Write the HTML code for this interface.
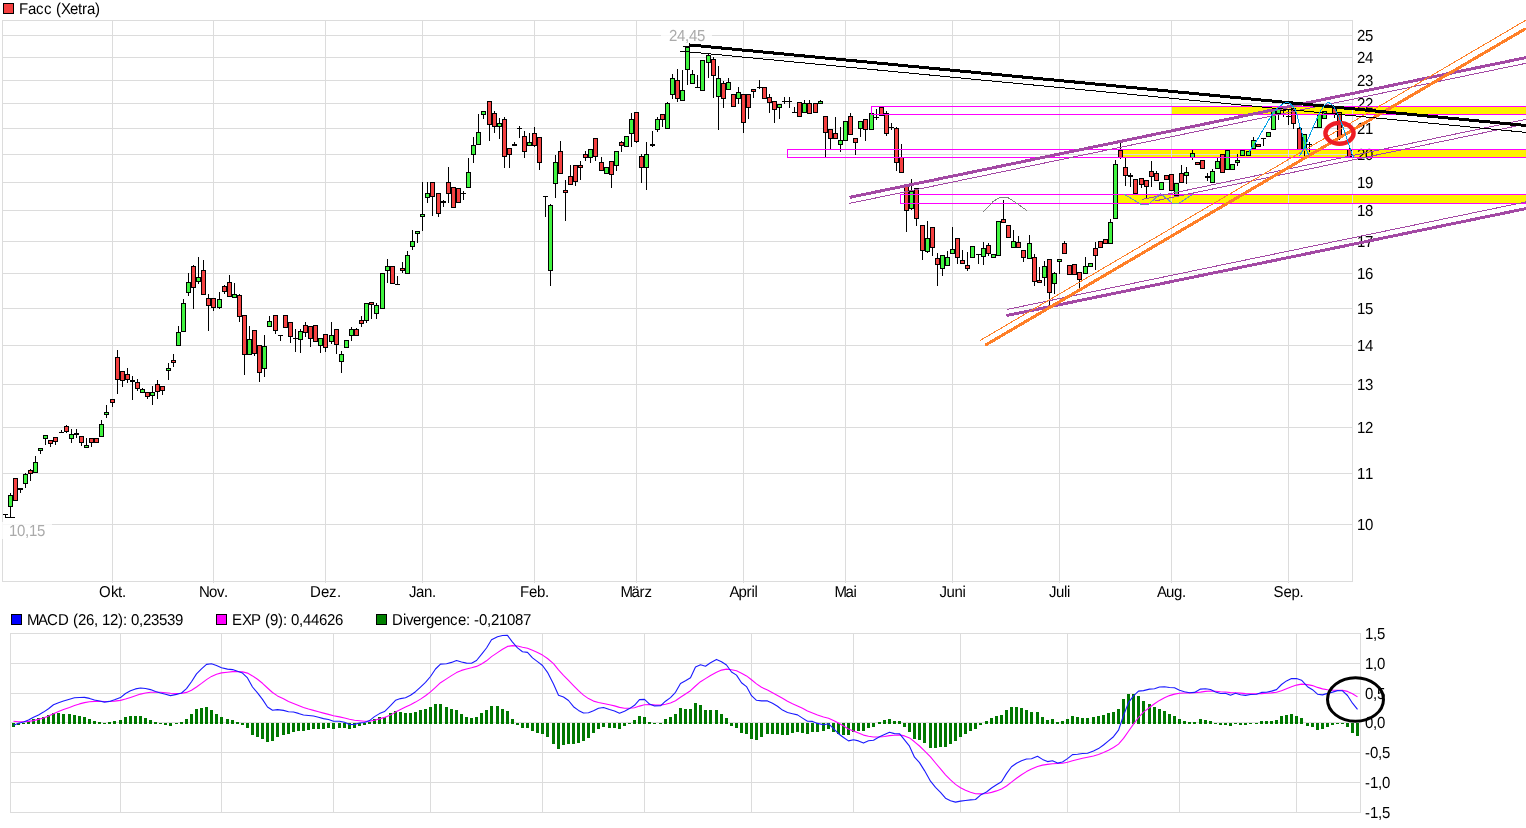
<!DOCTYPE html>
<html><head><meta charset="utf-8"><title>Facc (Xetra)</title>
<style>html,body{margin:0;padding:0;background:#fff}svg{display:block}</style></head>
<body>
<svg width="1526" height="828" viewBox="0 0 1526 828" font-family="'Liberation Sans', sans-serif" font-size="15px" text-rendering="geometricPrecision">
<rect x="0" y="0" width="1526" height="828" fill="#fff"/>
<g shape-rendering="crispEdges">
<rect x="1172" y="107" width="354" height="7" fill="#fff200"/>
<rect x="1123" y="150" width="403" height="7" fill="#fff200"/>
<rect x="1118" y="195" width="408" height="8" fill="#fff200"/>
</g>
<g shape-rendering="crispEdges" fill="#dcdcdc">
<rect x="2" y="524" width="1351" height="1"/>
<rect x="2" y="473" width="1351" height="1"/>
<rect x="2" y="427" width="1351" height="1"/>
<rect x="2" y="384" width="1351" height="1"/>
<rect x="2" y="345" width="1351" height="1"/>
<rect x="2" y="308" width="1351" height="1"/>
<rect x="2" y="273" width="1351" height="1"/>
<rect x="2" y="241" width="1351" height="1"/>
<rect x="2" y="210" width="1351" height="1"/>
<rect x="2" y="182" width="1351" height="1"/>
<rect x="2" y="154" width="1351" height="1"/>
<rect x="2" y="128" width="1351" height="1"/>
<rect x="2" y="103" width="1351" height="1"/>
<rect x="2" y="80" width="1351" height="1"/>
<rect x="2" y="57" width="1351" height="1"/>
<rect x="2" y="35" width="1351" height="1"/>
<rect x="112" y="20" width="1" height="563"/>
<rect x="213" y="20" width="1" height="563"/>
<rect x="325" y="20" width="1" height="563"/>
<rect x="422" y="20" width="1" height="563"/>
<rect x="534" y="20" width="1" height="563"/>
<rect x="636" y="20" width="1" height="563"/>
<rect x="743" y="20" width="1" height="563"/>
<rect x="845" y="20" width="1" height="563"/>
<rect x="952" y="20" width="1" height="563"/>
<rect x="1059" y="20" width="1" height="563"/>
<rect x="1171" y="20" width="1" height="563"/>
<rect x="1288" y="20" width="1" height="563"/>
<rect x="2" y="20" width="1351" height="1"/>
<rect x="2" y="581" width="1351" height="1"/>
<rect x="2" y="20" width="1" height="562"/>
<rect x="1352" y="20" width="1" height="562"/>
</g>
<rect x="3.5" y="3.5" width="10" height="10" fill="#f44040" stroke="#000" stroke-width="1" shape-rendering="crispEdges"/>
<text transform="matrix(1 0 0 1.05 0 14)" x="19 28 36 44 52 56 61 70 78 82 87 95" y="0" fill="#000">Facc (Xetra)</text>
<text transform="matrix(1 0 0 1.065 0 530)" x="1357 1365" y="0" fill="#000">10</text>
<text transform="matrix(1 0 0 1.065 0 479)" x="1357 1365" y="0" fill="#000">11</text>
<text transform="matrix(1 0 0 1.065 0 433)" x="1357 1365" y="0" fill="#000">12</text>
<text transform="matrix(1 0 0 1.065 0 390)" x="1357 1365" y="0" fill="#000">13</text>
<text transform="matrix(1 0 0 1.065 0 351)" x="1357 1365" y="0" fill="#000">14</text>
<text transform="matrix(1 0 0 1.065 0 314)" x="1357 1365" y="0" fill="#000">15</text>
<text transform="matrix(1 0 0 1.065 0 279)" x="1357 1365" y="0" fill="#000">16</text>
<text transform="matrix(1 0 0 1.065 0 247)" x="1357 1365" y="0" fill="#000">17</text>
<text transform="matrix(1 0 0 1.065 0 216)" x="1357 1365" y="0" fill="#000">18</text>
<text transform="matrix(1 0 0 1.065 0 188)" x="1357 1365" y="0" fill="#000">19</text>
<text transform="matrix(1 0 0 1.065 0 160)" x="1357 1365" y="0" fill="#000">20</text>
<text transform="matrix(1 0 0 1.065 0 134)" x="1357 1365" y="0" fill="#000">21</text>
<text transform="matrix(1 0 0 1.065 0 109)" x="1357 1365" y="0" fill="#000">22</text>
<text transform="matrix(1 0 0 1.065 0 86)" x="1357 1365" y="0" fill="#000">23</text>
<text transform="matrix(1 0 0 1.065 0 63)" x="1357 1365" y="0" fill="#000">24</text>
<text transform="matrix(1 0 0 1.065 0 41)" x="1357 1365" y="0" fill="#000">25</text>
<text transform="matrix(1 0 0 1.05 0 597)" x="99 111 118 122" y="0" fill="#000">Okt.</text>
<text transform="matrix(1 0 0 1.05 0 597)" x="199 209 217 224" y="0" fill="#000">Nov.</text>
<text transform="matrix(1 0 0 1.05 0 597)" x="310 321 329 337" y="0" fill="#000">Dez.</text>
<text transform="matrix(1 0 0 1.05 0 597)" x="409 416 424 432" y="0" fill="#000">Jan.</text>
<text transform="matrix(1 0 0 1.05 0 597)" x="520 529 537 545" y="0" fill="#000">Feb.</text>
<text transform="matrix(1 0 0 1.05 0 597)" x="620.5 631.5 639.5 644.5" y="0" fill="#000">März</text>
<text transform="matrix(1 0 0 1.05 0 597)" x="729.5 738.5 746.5 751.5 754.5" y="0" fill="#000">April</text>
<text transform="matrix(1 0 0 1.05 0 597)" x="834.5 845.5 853.5" y="0" fill="#000">Mai</text>
<text transform="matrix(1 0 0 1.05 0 597)" x="939.5 946.5 954.5 962.5" y="0" fill="#000">Juni</text>
<text transform="matrix(1 0 0 1.05 0 597)" x="1049 1056 1064 1067" y="0" fill="#000">Juli</text>
<text transform="matrix(1 0 0 1.05 0 597)" x="1157 1166 1174 1182" y="0" fill="#000">Aug.</text>
<text transform="matrix(1 0 0 1.05 0 597)" x="1273.5 1283.5 1291.5 1299.5" y="0" fill="#000">Sep.</text>
<rect x="2" y="522" width="50" height="17" fill="#fff" fill-opacity="0.8"/>
<text transform="matrix(1 0 0 1.065 0 536)" x="9 17 25 29 37" y="0" fill="#aaaaaa">10,15</text>
<rect x="661" y="27" width="51" height="17" fill="#fff" fill-opacity="0.8"/>
<text transform="matrix(1 0 0 1.065 0 41)" x="669 677 685 689 697" y="0" fill="#aaaaaa">24,45</text>
<g shape-rendering="crispEdges">
<rect x="5" y="514" width="1" height="4" fill="#000"/>
<rect x="3" y="514" width="5" height="1" fill="#000"/>
<rect x="10" y="493" width="1" height="25" fill="#000"/>
<rect x="8" y="495" width="5" height="12" fill="#000"/>
<rect x="9" y="496" width="3" height="10" fill="#40f440"/>
<rect x="15" y="478" width="1" height="23" fill="#000"/>
<rect x="13" y="478" width="5" height="23" fill="#000"/>
<rect x="14" y="479" width="3" height="21" fill="#f44040"/>
<rect x="20" y="488" width="1" height="5" fill="#000"/>
<rect x="18" y="488" width="5" height="2" fill="#000"/>
<rect x="25" y="473" width="1" height="15" fill="#000"/>
<rect x="23" y="474" width="5" height="10" fill="#000"/>
<rect x="24" y="475" width="3" height="8" fill="#40f440"/>
<rect x="30" y="469" width="1" height="12" fill="#000"/>
<rect x="28" y="470" width="5" height="4" fill="#000"/>
<rect x="29" y="471" width="3" height="2" fill="#f44040"/>
<rect x="35" y="456" width="1" height="17" fill="#000"/>
<rect x="33" y="462" width="5" height="11" fill="#000"/>
<rect x="34" y="463" width="3" height="9" fill="#40f440"/>
<rect x="40" y="448" width="1" height="6" fill="#000"/>
<rect x="38" y="448" width="5" height="3" fill="#000"/>
<rect x="39" y="449" width="3" height="1" fill="#40f440"/>
<rect x="45" y="435" width="1" height="10" fill="#000"/>
<rect x="43" y="435" width="5" height="4" fill="#000"/>
<rect x="44" y="436" width="3" height="2" fill="#40f440"/>
<rect x="50" y="440" width="1" height="7" fill="#000"/>
<rect x="48" y="440" width="5" height="4" fill="#000"/>
<rect x="49" y="441" width="3" height="2" fill="#f44040"/>
<rect x="55" y="437" width="1" height="8" fill="#000"/>
<rect x="53" y="437" width="5" height="5" fill="#000"/>
<rect x="54" y="438" width="3" height="3" fill="#f44040"/>
<rect x="61" y="430" width="1" height="3" fill="#000"/>
<rect x="59" y="432" width="5" height="1" fill="#000"/>
<rect x="66" y="425" width="1" height="8" fill="#000"/>
<rect x="64" y="426" width="5" height="6" fill="#000"/>
<rect x="65" y="427" width="3" height="4" fill="#f44040"/>
<rect x="71" y="429" width="1" height="14" fill="#000"/>
<rect x="69" y="434" width="5" height="5" fill="#000"/>
<rect x="70" y="435" width="3" height="3" fill="#40f440"/>
<rect x="76" y="429" width="1" height="9" fill="#000"/>
<rect x="74" y="433" width="5" height="2" fill="#000"/>
<rect x="81" y="436" width="1" height="10" fill="#000"/>
<rect x="79" y="436" width="5" height="7" fill="#000"/>
<rect x="80" y="437" width="3" height="5" fill="#f44040"/>
<rect x="86" y="438" width="1" height="10" fill="#000"/>
<rect x="84" y="445" width="5" height="3" fill="#000"/>
<rect x="85" y="446" width="3" height="1" fill="#40f440"/>
<rect x="91" y="438" width="1" height="9" fill="#000"/>
<rect x="89" y="438" width="5" height="5" fill="#000"/>
<rect x="90" y="439" width="3" height="3" fill="#f44040"/>
<rect x="96" y="438" width="1" height="5" fill="#000"/>
<rect x="94" y="438" width="5" height="5" fill="#000"/>
<rect x="95" y="439" width="3" height="3" fill="#f44040"/>
<rect x="101" y="420" width="1" height="17" fill="#000"/>
<rect x="99" y="424" width="5" height="13" fill="#000"/>
<rect x="100" y="425" width="3" height="11" fill="#40f440"/>
<rect x="106" y="405" width="1" height="13" fill="#000"/>
<rect x="104" y="412" width="5" height="3" fill="#000"/>
<rect x="105" y="413" width="3" height="1" fill="#40f440"/>
<rect x="112" y="399" width="1" height="8" fill="#000"/>
<rect x="110" y="399" width="5" height="4" fill="#000"/>
<rect x="111" y="400" width="3" height="2" fill="#f44040"/>
<rect x="117" y="350" width="1" height="44" fill="#000"/>
<rect x="115" y="357" width="5" height="23" fill="#000"/>
<rect x="116" y="358" width="3" height="21" fill="#f44040"/>
<rect x="122" y="371" width="1" height="16" fill="#000"/>
<rect x="120" y="371" width="5" height="10" fill="#000"/>
<rect x="121" y="372" width="3" height="8" fill="#f44040"/>
<rect x="127" y="368" width="1" height="15" fill="#000"/>
<rect x="125" y="374" width="5" height="6" fill="#000"/>
<rect x="126" y="375" width="3" height="4" fill="#f44040"/>
<rect x="132" y="376" width="1" height="24" fill="#000"/>
<rect x="130" y="380" width="5" height="2" fill="#000"/>
<rect x="137" y="379" width="1" height="12" fill="#000"/>
<rect x="135" y="382" width="5" height="7" fill="#000"/>
<rect x="136" y="383" width="3" height="5" fill="#f44040"/>
<rect x="142" y="388" width="1" height="5" fill="#000"/>
<rect x="140" y="389" width="5" height="4" fill="#000"/>
<rect x="141" y="390" width="3" height="2" fill="#40f440"/>
<rect x="147" y="392" width="1" height="7" fill="#000"/>
<rect x="145" y="392" width="5" height="5" fill="#000"/>
<rect x="146" y="393" width="3" height="3" fill="#f44040"/>
<rect x="152" y="386" width="1" height="19" fill="#000"/>
<rect x="150" y="392" width="5" height="4" fill="#000"/>
<rect x="151" y="393" width="3" height="2" fill="#40f440"/>
<rect x="157" y="380" width="1" height="19" fill="#000"/>
<rect x="155" y="384" width="5" height="8" fill="#000"/>
<rect x="156" y="385" width="3" height="6" fill="#f44040"/>
<rect x="162" y="386" width="1" height="9" fill="#000"/>
<rect x="160" y="386" width="5" height="5" fill="#000"/>
<rect x="161" y="387" width="3" height="3" fill="#f44040"/>
<rect x="168" y="363" width="1" height="17" fill="#000"/>
<rect x="166" y="368" width="5" height="3" fill="#000"/>
<rect x="167" y="369" width="3" height="1" fill="#40f440"/>
<rect x="173" y="354" width="1" height="13" fill="#000"/>
<rect x="171" y="360" width="5" height="3" fill="#000"/>
<rect x="172" y="361" width="3" height="1" fill="#f44040"/>
<rect x="178" y="326" width="1" height="20" fill="#000"/>
<rect x="176" y="332" width="5" height="14" fill="#000"/>
<rect x="177" y="333" width="3" height="12" fill="#40f440"/>
<rect x="183" y="299" width="1" height="33" fill="#000"/>
<rect x="181" y="303" width="5" height="29" fill="#000"/>
<rect x="182" y="304" width="3" height="27" fill="#40f440"/>
<rect x="188" y="273" width="1" height="23" fill="#000"/>
<rect x="186" y="282" width="5" height="11" fill="#000"/>
<rect x="187" y="283" width="3" height="9" fill="#40f440"/>
<rect x="193" y="265" width="1" height="44" fill="#000"/>
<rect x="191" y="266" width="5" height="22" fill="#000"/>
<rect x="192" y="267" width="3" height="20" fill="#f44040"/>
<rect x="198" y="257" width="1" height="27" fill="#000"/>
<rect x="196" y="277" width="5" height="5" fill="#000"/>
<rect x="197" y="278" width="3" height="3" fill="#40f440"/>
<rect x="203" y="260" width="1" height="35" fill="#000"/>
<rect x="201" y="270" width="5" height="25" fill="#000"/>
<rect x="202" y="271" width="3" height="23" fill="#f44040"/>
<rect x="208" y="294" width="1" height="37" fill="#000"/>
<rect x="206" y="298" width="5" height="8" fill="#000"/>
<rect x="207" y="299" width="3" height="6" fill="#f44040"/>
<rect x="213" y="298" width="1" height="13" fill="#000"/>
<rect x="211" y="298" width="5" height="10" fill="#000"/>
<rect x="212" y="299" width="3" height="8" fill="#f44040"/>
<rect x="219" y="292" width="1" height="17" fill="#000"/>
<rect x="217" y="299" width="5" height="9" fill="#000"/>
<rect x="218" y="300" width="3" height="7" fill="#40f440"/>
<rect x="224" y="285" width="1" height="9" fill="#000"/>
<rect x="222" y="286" width="5" height="6" fill="#000"/>
<rect x="223" y="287" width="3" height="4" fill="#f44040"/>
<rect x="229" y="275" width="1" height="22" fill="#000"/>
<rect x="227" y="282" width="5" height="15" fill="#000"/>
<rect x="228" y="283" width="3" height="13" fill="#f44040"/>
<rect x="234" y="283" width="1" height="15" fill="#000"/>
<rect x="232" y="294" width="5" height="4" fill="#000"/>
<rect x="233" y="295" width="3" height="2" fill="#40f440"/>
<rect x="239" y="294" width="1" height="28" fill="#000"/>
<rect x="237" y="295" width="5" height="22" fill="#000"/>
<rect x="238" y="296" width="3" height="20" fill="#f44040"/>
<rect x="244" y="315" width="1" height="60" fill="#000"/>
<rect x="242" y="315" width="5" height="40" fill="#000"/>
<rect x="243" y="316" width="3" height="38" fill="#f44040"/>
<rect x="249" y="326" width="1" height="29" fill="#000"/>
<rect x="247" y="339" width="5" height="16" fill="#000"/>
<rect x="248" y="340" width="3" height="14" fill="#40f440"/>
<rect x="254" y="330" width="1" height="26" fill="#000"/>
<rect x="252" y="330" width="5" height="24" fill="#000"/>
<rect x="253" y="331" width="3" height="22" fill="#f44040"/>
<rect x="259" y="345" width="1" height="37" fill="#000"/>
<rect x="257" y="345" width="5" height="28" fill="#000"/>
<rect x="258" y="346" width="3" height="26" fill="#f44040"/>
<rect x="264" y="335" width="1" height="42" fill="#000"/>
<rect x="262" y="346" width="5" height="23" fill="#000"/>
<rect x="263" y="347" width="3" height="21" fill="#40f440"/>
<rect x="269" y="316" width="1" height="11" fill="#000"/>
<rect x="267" y="321" width="5" height="6" fill="#000"/>
<rect x="268" y="322" width="3" height="4" fill="#40f440"/>
<rect x="275" y="315" width="1" height="19" fill="#000"/>
<rect x="273" y="315" width="5" height="16" fill="#000"/>
<rect x="274" y="316" width="3" height="14" fill="#f44040"/>
<rect x="280" y="335" width="1" height="6" fill="#000"/>
<rect x="278" y="335" width="5" height="1" fill="#000"/>
<rect x="285" y="315" width="1" height="13" fill="#000"/>
<rect x="283" y="315" width="5" height="13" fill="#000"/>
<rect x="284" y="316" width="3" height="11" fill="#f44040"/>
<rect x="290" y="322" width="1" height="21" fill="#000"/>
<rect x="288" y="322" width="5" height="15" fill="#000"/>
<rect x="289" y="323" width="3" height="13" fill="#f44040"/>
<rect x="295" y="329" width="1" height="23" fill="#000"/>
<rect x="293" y="338" width="5" height="1" fill="#000"/>
<rect x="300" y="329" width="1" height="24" fill="#000"/>
<rect x="298" y="331" width="5" height="9" fill="#000"/>
<rect x="299" y="332" width="3" height="7" fill="#40f440"/>
<rect x="305" y="322" width="1" height="15" fill="#000"/>
<rect x="303" y="325" width="5" height="8" fill="#000"/>
<rect x="304" y="326" width="3" height="6" fill="#f44040"/>
<rect x="310" y="326" width="1" height="21" fill="#000"/>
<rect x="308" y="326" width="5" height="13" fill="#000"/>
<rect x="309" y="327" width="3" height="11" fill="#f44040"/>
<rect x="315" y="325" width="1" height="17" fill="#000"/>
<rect x="313" y="325" width="5" height="17" fill="#000"/>
<rect x="314" y="326" width="3" height="15" fill="#f44040"/>
<rect x="320" y="338" width="1" height="15" fill="#000"/>
<rect x="318" y="338" width="5" height="8" fill="#000"/>
<rect x="319" y="339" width="3" height="6" fill="#40f440"/>
<rect x="325" y="334" width="1" height="18" fill="#000"/>
<rect x="323" y="334" width="5" height="14" fill="#000"/>
<rect x="324" y="335" width="3" height="12" fill="#f44040"/>
<rect x="331" y="322" width="1" height="22" fill="#000"/>
<rect x="329" y="335" width="5" height="7" fill="#000"/>
<rect x="330" y="336" width="3" height="5" fill="#40f440"/>
<rect x="336" y="329" width="1" height="25" fill="#000"/>
<rect x="334" y="329" width="5" height="16" fill="#000"/>
<rect x="335" y="330" width="3" height="14" fill="#f44040"/>
<rect x="341" y="351" width="1" height="22" fill="#000"/>
<rect x="339" y="354" width="5" height="8" fill="#000"/>
<rect x="340" y="355" width="3" height="6" fill="#40f440"/>
<rect x="346" y="340" width="1" height="8" fill="#000"/>
<rect x="344" y="340" width="5" height="8" fill="#000"/>
<rect x="345" y="341" width="3" height="6" fill="#40f440"/>
<rect x="351" y="327" width="1" height="14" fill="#000"/>
<rect x="349" y="329" width="5" height="7" fill="#000"/>
<rect x="350" y="330" width="3" height="5" fill="#40f440"/>
<rect x="356" y="328" width="1" height="8" fill="#000"/>
<rect x="354" y="329" width="5" height="7" fill="#000"/>
<rect x="355" y="330" width="3" height="5" fill="#f44040"/>
<rect x="361" y="316" width="1" height="11" fill="#000"/>
<rect x="359" y="320" width="5" height="4" fill="#000"/>
<rect x="360" y="321" width="3" height="2" fill="#f44040"/>
<rect x="366" y="303" width="1" height="20" fill="#000"/>
<rect x="364" y="303" width="5" height="18" fill="#000"/>
<rect x="365" y="304" width="3" height="16" fill="#40f440"/>
<rect x="371" y="302" width="1" height="17" fill="#000"/>
<rect x="369" y="302" width="5" height="3" fill="#000"/>
<rect x="370" y="303" width="3" height="1" fill="#f44040"/>
<rect x="376" y="303" width="1" height="16" fill="#000"/>
<rect x="374" y="305" width="5" height="9" fill="#000"/>
<rect x="375" y="306" width="3" height="7" fill="#40f440"/>
<rect x="382" y="273" width="1" height="36" fill="#000"/>
<rect x="380" y="273" width="5" height="36" fill="#000"/>
<rect x="381" y="274" width="3" height="34" fill="#40f440"/>
<rect x="387" y="259" width="1" height="24" fill="#000"/>
<rect x="385" y="266" width="5" height="5" fill="#000"/>
<rect x="386" y="267" width="3" height="3" fill="#40f440"/>
<rect x="392" y="266" width="1" height="18" fill="#000"/>
<rect x="390" y="266" width="5" height="18" fill="#000"/>
<rect x="391" y="267" width="3" height="16" fill="#f44040"/>
<rect x="397" y="276" width="1" height="9" fill="#000"/>
<rect x="395" y="284" width="5" height="1" fill="#000"/>
<rect x="402" y="262" width="1" height="11" fill="#000"/>
<rect x="400" y="268" width="5" height="3" fill="#000"/>
<rect x="401" y="269" width="3" height="1" fill="#f44040"/>
<rect x="407" y="251" width="1" height="23" fill="#000"/>
<rect x="405" y="255" width="5" height="19" fill="#000"/>
<rect x="406" y="256" width="3" height="17" fill="#40f440"/>
<rect x="412" y="230" width="1" height="20" fill="#000"/>
<rect x="410" y="241" width="5" height="6" fill="#000"/>
<rect x="411" y="242" width="3" height="4" fill="#40f440"/>
<rect x="417" y="231" width="1" height="12" fill="#000"/>
<rect x="415" y="231" width="5" height="3" fill="#000"/>
<rect x="416" y="232" width="3" height="1" fill="#40f440"/>
<rect x="422" y="182" width="1" height="49" fill="#000"/>
<rect x="420" y="214" width="5" height="3" fill="#000"/>
<rect x="421" y="215" width="3" height="1" fill="#40f440"/>
<rect x="427" y="182" width="1" height="21" fill="#000"/>
<rect x="425" y="193" width="5" height="5" fill="#000"/>
<rect x="426" y="194" width="3" height="3" fill="#40f440"/>
<rect x="432" y="182" width="1" height="34" fill="#000"/>
<rect x="430" y="182" width="5" height="15" fill="#000"/>
<rect x="431" y="183" width="3" height="13" fill="#f44040"/>
<rect x="438" y="193" width="1" height="24" fill="#000"/>
<rect x="436" y="193" width="5" height="21" fill="#000"/>
<rect x="437" y="194" width="3" height="19" fill="#f44040"/>
<rect x="443" y="200" width="1" height="7" fill="#000"/>
<rect x="441" y="201" width="5" height="2" fill="#000"/>
<rect x="448" y="167" width="1" height="36" fill="#000"/>
<rect x="446" y="182" width="5" height="12" fill="#000"/>
<rect x="447" y="183" width="3" height="10" fill="#f44040"/>
<rect x="453" y="187" width="1" height="21" fill="#000"/>
<rect x="451" y="187" width="5" height="21" fill="#000"/>
<rect x="452" y="188" width="3" height="19" fill="#f44040"/>
<rect x="458" y="188" width="1" height="15" fill="#000"/>
<rect x="456" y="188" width="5" height="15" fill="#000"/>
<rect x="457" y="189" width="3" height="13" fill="#f44040"/>
<rect x="463" y="191" width="1" height="9" fill="#000"/>
<rect x="461" y="193" width="5" height="1" fill="#000"/>
<rect x="468" y="158" width="1" height="30" fill="#000"/>
<rect x="466" y="172" width="5" height="16" fill="#000"/>
<rect x="467" y="173" width="3" height="14" fill="#40f440"/>
<rect x="473" y="137" width="1" height="26" fill="#000"/>
<rect x="471" y="145" width="5" height="10" fill="#000"/>
<rect x="472" y="146" width="3" height="8" fill="#40f440"/>
<rect x="478" y="114" width="1" height="31" fill="#000"/>
<rect x="476" y="132" width="5" height="13" fill="#000"/>
<rect x="477" y="133" width="3" height="11" fill="#40f440"/>
<rect x="483" y="111" width="1" height="8" fill="#000"/>
<rect x="481" y="111" width="5" height="4" fill="#000"/>
<rect x="482" y="112" width="3" height="2" fill="#40f440"/>
<rect x="489" y="101" width="1" height="40" fill="#000"/>
<rect x="487" y="101" width="5" height="24" fill="#000"/>
<rect x="488" y="102" width="3" height="22" fill="#f44040"/>
<rect x="494" y="111" width="1" height="22" fill="#000"/>
<rect x="492" y="113" width="5" height="14" fill="#000"/>
<rect x="493" y="114" width="3" height="12" fill="#f44040"/>
<rect x="499" y="118" width="1" height="21" fill="#000"/>
<rect x="497" y="123" width="5" height="4" fill="#000"/>
<rect x="498" y="124" width="3" height="2" fill="#40f440"/>
<rect x="504" y="117" width="1" height="51" fill="#000"/>
<rect x="502" y="119" width="5" height="38" fill="#000"/>
<rect x="503" y="120" width="3" height="36" fill="#f44040"/>
<rect x="509" y="148" width="1" height="20" fill="#000"/>
<rect x="507" y="148" width="5" height="7" fill="#000"/>
<rect x="508" y="149" width="3" height="5" fill="#f44040"/>
<rect x="514" y="142" width="1" height="4" fill="#000"/>
<rect x="512" y="144" width="5" height="2" fill="#000"/>
<rect x="519" y="126" width="1" height="12" fill="#000"/>
<rect x="517" y="128" width="5" height="1" fill="#000"/>
<rect x="524" y="131" width="1" height="27" fill="#000"/>
<rect x="522" y="136" width="5" height="16" fill="#000"/>
<rect x="523" y="137" width="3" height="14" fill="#f44040"/>
<rect x="529" y="133" width="1" height="13" fill="#000"/>
<rect x="527" y="142" width="5" height="4" fill="#000"/>
<rect x="528" y="143" width="3" height="2" fill="#40f440"/>
<rect x="534" y="127" width="1" height="20" fill="#000"/>
<rect x="532" y="133" width="5" height="13" fill="#000"/>
<rect x="533" y="134" width="3" height="11" fill="#f44040"/>
<rect x="539" y="137" width="1" height="33" fill="#000"/>
<rect x="537" y="137" width="5" height="26" fill="#000"/>
<rect x="538" y="138" width="3" height="24" fill="#f44040"/>
<rect x="545" y="196" width="1" height="21" fill="#000"/>
<rect x="543" y="196" width="5" height="1" fill="#000"/>
<rect x="550" y="204" width="1" height="82" fill="#000"/>
<rect x="548" y="205" width="5" height="66" fill="#000"/>
<rect x="549" y="206" width="3" height="64" fill="#40f440"/>
<rect x="555" y="155" width="1" height="43" fill="#000"/>
<rect x="553" y="162" width="5" height="22" fill="#000"/>
<rect x="554" y="163" width="3" height="20" fill="#40f440"/>
<rect x="560" y="141" width="1" height="33" fill="#000"/>
<rect x="558" y="151" width="5" height="23" fill="#000"/>
<rect x="559" y="152" width="3" height="21" fill="#f44040"/>
<rect x="565" y="180" width="1" height="41" fill="#000"/>
<rect x="563" y="190" width="5" height="3" fill="#000"/>
<rect x="564" y="191" width="3" height="1" fill="#f44040"/>
<rect x="570" y="165" width="1" height="20" fill="#000"/>
<rect x="568" y="176" width="5" height="9" fill="#000"/>
<rect x="569" y="177" width="3" height="7" fill="#f44040"/>
<rect x="575" y="165" width="1" height="21" fill="#000"/>
<rect x="573" y="165" width="5" height="17" fill="#000"/>
<rect x="574" y="166" width="3" height="15" fill="#f44040"/>
<rect x="580" y="161" width="1" height="19" fill="#000"/>
<rect x="578" y="165" width="5" height="3" fill="#000"/>
<rect x="579" y="166" width="3" height="1" fill="#f44040"/>
<rect x="585" y="151" width="1" height="10" fill="#000"/>
<rect x="583" y="154" width="5" height="4" fill="#000"/>
<rect x="584" y="155" width="3" height="2" fill="#f44040"/>
<rect x="590" y="149" width="1" height="14" fill="#000"/>
<rect x="588" y="149" width="5" height="9" fill="#000"/>
<rect x="589" y="150" width="3" height="7" fill="#40f440"/>
<rect x="595" y="138" width="1" height="23" fill="#000"/>
<rect x="593" y="138" width="5" height="19" fill="#000"/>
<rect x="594" y="139" width="3" height="17" fill="#f44040"/>
<rect x="601" y="157" width="1" height="14" fill="#000"/>
<rect x="599" y="162" width="5" height="9" fill="#000"/>
<rect x="600" y="163" width="3" height="7" fill="#f44040"/>
<rect x="606" y="167" width="1" height="7" fill="#000"/>
<rect x="604" y="167" width="5" height="7" fill="#000"/>
<rect x="605" y="168" width="3" height="5" fill="#40f440"/>
<rect x="611" y="161" width="1" height="27" fill="#000"/>
<rect x="609" y="161" width="5" height="14" fill="#000"/>
<rect x="610" y="162" width="3" height="12" fill="#f44040"/>
<rect x="616" y="151" width="1" height="20" fill="#000"/>
<rect x="614" y="151" width="5" height="15" fill="#000"/>
<rect x="615" y="152" width="3" height="13" fill="#40f440"/>
<rect x="621" y="141" width="1" height="11" fill="#000"/>
<rect x="619" y="142" width="5" height="4" fill="#000"/>
<rect x="620" y="143" width="3" height="2" fill="#f44040"/>
<rect x="626" y="136" width="1" height="11" fill="#000"/>
<rect x="624" y="136" width="5" height="11" fill="#000"/>
<rect x="625" y="137" width="3" height="9" fill="#40f440"/>
<rect x="631" y="113" width="1" height="34" fill="#000"/>
<rect x="629" y="119" width="5" height="15" fill="#000"/>
<rect x="630" y="120" width="3" height="13" fill="#40f440"/>
<rect x="636" y="112" width="1" height="31" fill="#000"/>
<rect x="634" y="112" width="5" height="30" fill="#000"/>
<rect x="635" y="113" width="3" height="28" fill="#f44040"/>
<rect x="641" y="154" width="1" height="29" fill="#000"/>
<rect x="639" y="156" width="5" height="12" fill="#000"/>
<rect x="640" y="157" width="3" height="10" fill="#f44040"/>
<rect x="646" y="142" width="1" height="48" fill="#000"/>
<rect x="644" y="154" width="5" height="14" fill="#000"/>
<rect x="645" y="155" width="3" height="12" fill="#40f440"/>
<rect x="652" y="131" width="1" height="16" fill="#000"/>
<rect x="650" y="144" width="5" height="2" fill="#000"/>
<rect x="657" y="117" width="1" height="15" fill="#000"/>
<rect x="655" y="119" width="5" height="11" fill="#000"/>
<rect x="656" y="120" width="3" height="9" fill="#40f440"/>
<rect x="662" y="114" width="1" height="13" fill="#000"/>
<rect x="660" y="114" width="5" height="6" fill="#000"/>
<rect x="661" y="115" width="3" height="4" fill="#f44040"/>
<rect x="667" y="102" width="1" height="27" fill="#000"/>
<rect x="665" y="103" width="5" height="26" fill="#000"/>
<rect x="666" y="104" width="3" height="24" fill="#40f440"/>
<rect x="672" y="74" width="1" height="25" fill="#000"/>
<rect x="670" y="78" width="5" height="17" fill="#000"/>
<rect x="671" y="79" width="3" height="15" fill="#40f440"/>
<rect x="677" y="69" width="1" height="33" fill="#000"/>
<rect x="675" y="80" width="5" height="19" fill="#000"/>
<rect x="676" y="81" width="3" height="17" fill="#f44040"/>
<rect x="682" y="70" width="1" height="31" fill="#000"/>
<rect x="680" y="90" width="5" height="11" fill="#000"/>
<rect x="681" y="91" width="3" height="9" fill="#40f440"/>
<rect x="687" y="46" width="1" height="39" fill="#000"/>
<rect x="685" y="47" width="5" height="23" fill="#000"/>
<rect x="686" y="48" width="3" height="21" fill="#40f440"/>
<rect x="692" y="70" width="1" height="14" fill="#000"/>
<rect x="690" y="74" width="5" height="10" fill="#000"/>
<rect x="691" y="75" width="3" height="8" fill="#40f440"/>
<rect x="697" y="75" width="1" height="13" fill="#000"/>
<rect x="695" y="87" width="5" height="1" fill="#000"/>
<rect x="702" y="60" width="1" height="31" fill="#000"/>
<rect x="700" y="60" width="5" height="31" fill="#000"/>
<rect x="701" y="61" width="3" height="29" fill="#40f440"/>
<rect x="708" y="54" width="1" height="24" fill="#000"/>
<rect x="706" y="55" width="5" height="8" fill="#000"/>
<rect x="707" y="56" width="3" height="6" fill="#40f440"/>
<rect x="713" y="57" width="1" height="41" fill="#000"/>
<rect x="711" y="59" width="5" height="17" fill="#000"/>
<rect x="712" y="60" width="3" height="15" fill="#f44040"/>
<rect x="718" y="66" width="1" height="64" fill="#000"/>
<rect x="716" y="78" width="5" height="19" fill="#000"/>
<rect x="717" y="79" width="3" height="17" fill="#40f440"/>
<rect x="723" y="81" width="1" height="27" fill="#000"/>
<rect x="721" y="83" width="5" height="16" fill="#000"/>
<rect x="722" y="84" width="3" height="14" fill="#f44040"/>
<rect x="728" y="78" width="1" height="12" fill="#000"/>
<rect x="726" y="82" width="5" height="8" fill="#000"/>
<rect x="727" y="83" width="3" height="6" fill="#40f440"/>
<rect x="733" y="94" width="1" height="13" fill="#000"/>
<rect x="731" y="94" width="5" height="13" fill="#000"/>
<rect x="732" y="95" width="3" height="11" fill="#f44040"/>
<rect x="738" y="87" width="1" height="17" fill="#000"/>
<rect x="736" y="92" width="5" height="7" fill="#000"/>
<rect x="737" y="93" width="3" height="5" fill="#40f440"/>
<rect x="743" y="94" width="1" height="39" fill="#000"/>
<rect x="741" y="94" width="5" height="29" fill="#000"/>
<rect x="742" y="95" width="3" height="27" fill="#f44040"/>
<rect x="748" y="94" width="1" height="25" fill="#000"/>
<rect x="746" y="94" width="5" height="14" fill="#000"/>
<rect x="747" y="95" width="3" height="12" fill="#f44040"/>
<rect x="753" y="89" width="1" height="9" fill="#000"/>
<rect x="751" y="89" width="5" height="3" fill="#000"/>
<rect x="752" y="90" width="3" height="1" fill="#f44040"/>
<rect x="759" y="80" width="1" height="9" fill="#000"/>
<rect x="757" y="87" width="5" height="1" fill="#000"/>
<rect x="764" y="87" width="1" height="12" fill="#000"/>
<rect x="762" y="87" width="5" height="12" fill="#000"/>
<rect x="763" y="88" width="3" height="10" fill="#f44040"/>
<rect x="769" y="94" width="1" height="19" fill="#000"/>
<rect x="767" y="97" width="5" height="6" fill="#000"/>
<rect x="768" y="98" width="3" height="4" fill="#f44040"/>
<rect x="774" y="101" width="1" height="22" fill="#000"/>
<rect x="772" y="101" width="5" height="9" fill="#000"/>
<rect x="773" y="102" width="3" height="7" fill="#f44040"/>
<rect x="779" y="104" width="1" height="15" fill="#000"/>
<rect x="777" y="104" width="5" height="4" fill="#000"/>
<rect x="778" y="105" width="3" height="2" fill="#40f440"/>
<rect x="784" y="97" width="1" height="7" fill="#000"/>
<rect x="782" y="101" width="5" height="1" fill="#000"/>
<rect x="789" y="97" width="1" height="11" fill="#000"/>
<rect x="787" y="101" width="5" height="1" fill="#000"/>
<rect x="794" y="107" width="1" height="6" fill="#000"/>
<rect x="792" y="112" width="5" height="1" fill="#000"/>
<rect x="799" y="102" width="1" height="15" fill="#000"/>
<rect x="797" y="102" width="5" height="15" fill="#000"/>
<rect x="798" y="103" width="3" height="13" fill="#f44040"/>
<rect x="804" y="100" width="1" height="13" fill="#000"/>
<rect x="802" y="103" width="5" height="10" fill="#000"/>
<rect x="803" y="104" width="3" height="8" fill="#40f440"/>
<rect x="809" y="100" width="1" height="14" fill="#000"/>
<rect x="807" y="103" width="5" height="11" fill="#000"/>
<rect x="808" y="104" width="3" height="9" fill="#f44040"/>
<rect x="815" y="103" width="1" height="10" fill="#000"/>
<rect x="813" y="103" width="5" height="10" fill="#000"/>
<rect x="814" y="104" width="3" height="8" fill="#f44040"/>
<rect x="820" y="100" width="1" height="4" fill="#000"/>
<rect x="818" y="101" width="5" height="3" fill="#000"/>
<rect x="819" y="102" width="3" height="1" fill="#40f440"/>
<rect x="825" y="116" width="1" height="41" fill="#000"/>
<rect x="823" y="116" width="5" height="17" fill="#000"/>
<rect x="824" y="117" width="3" height="15" fill="#f44040"/>
<rect x="830" y="129" width="1" height="20" fill="#000"/>
<rect x="828" y="129" width="5" height="10" fill="#000"/>
<rect x="829" y="130" width="3" height="8" fill="#f44040"/>
<rect x="835" y="117" width="1" height="22" fill="#000"/>
<rect x="833" y="133" width="5" height="6" fill="#000"/>
<rect x="834" y="134" width="3" height="4" fill="#f44040"/>
<rect x="840" y="127" width="1" height="25" fill="#000"/>
<rect x="838" y="140" width="5" height="5" fill="#000"/>
<rect x="839" y="141" width="3" height="3" fill="#40f440"/>
<rect x="845" y="121" width="1" height="20" fill="#000"/>
<rect x="843" y="121" width="5" height="20" fill="#000"/>
<rect x="844" y="122" width="3" height="18" fill="#40f440"/>
<rect x="850" y="113" width="1" height="22" fill="#000"/>
<rect x="848" y="116" width="5" height="19" fill="#000"/>
<rect x="849" y="117" width="3" height="17" fill="#f44040"/>
<rect x="855" y="138" width="1" height="17" fill="#000"/>
<rect x="853" y="138" width="5" height="5" fill="#000"/>
<rect x="854" y="139" width="3" height="3" fill="#f44040"/>
<rect x="860" y="121" width="1" height="16" fill="#000"/>
<rect x="858" y="121" width="5" height="8" fill="#000"/>
<rect x="859" y="122" width="3" height="6" fill="#40f440"/>
<rect x="865" y="119" width="1" height="22" fill="#000"/>
<rect x="863" y="119" width="5" height="11" fill="#000"/>
<rect x="864" y="120" width="3" height="9" fill="#f44040"/>
<rect x="871" y="113" width="1" height="17" fill="#000"/>
<rect x="869" y="113" width="5" height="17" fill="#000"/>
<rect x="870" y="114" width="3" height="15" fill="#40f440"/>
<rect x="876" y="109" width="1" height="11" fill="#000"/>
<rect x="874" y="117" width="5" height="1" fill="#000"/>
<rect x="881" y="107" width="1" height="9" fill="#000"/>
<rect x="879" y="107" width="5" height="9" fill="#000"/>
<rect x="880" y="108" width="3" height="7" fill="#f44040"/>
<rect x="886" y="111" width="1" height="25" fill="#000"/>
<rect x="884" y="113" width="5" height="21" fill="#000"/>
<rect x="885" y="114" width="3" height="19" fill="#f44040"/>
<rect x="891" y="123" width="1" height="7" fill="#000"/>
<rect x="889" y="127" width="5" height="1" fill="#000"/>
<rect x="896" y="127" width="1" height="44" fill="#000"/>
<rect x="894" y="128" width="5" height="35" fill="#000"/>
<rect x="895" y="129" width="3" height="33" fill="#f44040"/>
<rect x="901" y="144" width="1" height="29" fill="#000"/>
<rect x="899" y="157" width="5" height="16" fill="#000"/>
<rect x="900" y="158" width="3" height="14" fill="#f44040"/>
<rect x="906" y="184" width="1" height="48" fill="#000"/>
<rect x="904" y="184" width="5" height="27" fill="#000"/>
<rect x="905" y="185" width="3" height="25" fill="#f44040"/>
<rect x="911" y="179" width="1" height="31" fill="#000"/>
<rect x="909" y="191" width="5" height="18" fill="#000"/>
<rect x="910" y="192" width="3" height="16" fill="#40f440"/>
<rect x="916" y="188" width="1" height="38" fill="#000"/>
<rect x="914" y="188" width="5" height="31" fill="#000"/>
<rect x="915" y="189" width="3" height="29" fill="#f44040"/>
<rect x="922" y="225" width="1" height="35" fill="#000"/>
<rect x="920" y="225" width="5" height="26" fill="#000"/>
<rect x="921" y="226" width="3" height="24" fill="#f44040"/>
<rect x="927" y="221" width="1" height="32" fill="#000"/>
<rect x="925" y="238" width="5" height="14" fill="#000"/>
<rect x="926" y="239" width="3" height="12" fill="#40f440"/>
<rect x="932" y="227" width="1" height="29" fill="#000"/>
<rect x="930" y="227" width="5" height="21" fill="#000"/>
<rect x="931" y="228" width="3" height="19" fill="#f44040"/>
<rect x="937" y="253" width="1" height="33" fill="#000"/>
<rect x="935" y="258" width="5" height="7" fill="#000"/>
<rect x="936" y="259" width="3" height="5" fill="#f44040"/>
<rect x="942" y="255" width="1" height="21" fill="#000"/>
<rect x="940" y="255" width="5" height="14" fill="#000"/>
<rect x="941" y="256" width="3" height="12" fill="#40f440"/>
<rect x="947" y="251" width="1" height="15" fill="#000"/>
<rect x="945" y="257" width="5" height="9" fill="#000"/>
<rect x="946" y="258" width="3" height="7" fill="#40f440"/>
<rect x="952" y="227" width="1" height="27" fill="#000"/>
<rect x="950" y="249" width="5" height="5" fill="#000"/>
<rect x="951" y="250" width="3" height="3" fill="#40f440"/>
<rect x="957" y="238" width="1" height="26" fill="#000"/>
<rect x="955" y="238" width="5" height="20" fill="#000"/>
<rect x="956" y="239" width="3" height="18" fill="#f44040"/>
<rect x="962" y="250" width="1" height="14" fill="#000"/>
<rect x="960" y="260" width="5" height="4" fill="#000"/>
<rect x="961" y="261" width="3" height="2" fill="#f44040"/>
<rect x="967" y="252" width="1" height="19" fill="#000"/>
<rect x="965" y="265" width="5" height="4" fill="#000"/>
<rect x="966" y="266" width="3" height="2" fill="#f44040"/>
<rect x="972" y="246" width="1" height="12" fill="#000"/>
<rect x="970" y="246" width="5" height="12" fill="#000"/>
<rect x="971" y="247" width="3" height="10" fill="#40f440"/>
<rect x="978" y="254" width="1" height="10" fill="#000"/>
<rect x="976" y="254" width="5" height="1" fill="#000"/>
<rect x="983" y="242" width="1" height="23" fill="#000"/>
<rect x="981" y="248" width="5" height="9" fill="#000"/>
<rect x="982" y="249" width="3" height="7" fill="#40f440"/>
<rect x="988" y="243" width="1" height="13" fill="#000"/>
<rect x="986" y="245" width="5" height="9" fill="#000"/>
<rect x="987" y="246" width="3" height="7" fill="#f44040"/>
<rect x="993" y="254" width="1" height="4" fill="#000"/>
<rect x="991" y="254" width="5" height="4" fill="#000"/>
<rect x="992" y="255" width="3" height="2" fill="#40f440"/>
<rect x="998" y="221" width="1" height="35" fill="#000"/>
<rect x="996" y="221" width="5" height="35" fill="#000"/>
<rect x="997" y="222" width="3" height="33" fill="#40f440"/>
<rect x="1003" y="200" width="1" height="23" fill="#000"/>
<rect x="1001" y="219" width="5" height="4" fill="#000"/>
<rect x="1002" y="220" width="3" height="2" fill="#f44040"/>
<rect x="1008" y="225" width="1" height="13" fill="#000"/>
<rect x="1006" y="225" width="5" height="13" fill="#000"/>
<rect x="1007" y="226" width="3" height="11" fill="#f44040"/>
<rect x="1013" y="230" width="1" height="18" fill="#000"/>
<rect x="1011" y="241" width="5" height="7" fill="#000"/>
<rect x="1012" y="242" width="3" height="5" fill="#40f440"/>
<rect x="1018" y="236" width="1" height="12" fill="#000"/>
<rect x="1016" y="242" width="5" height="6" fill="#000"/>
<rect x="1017" y="243" width="3" height="4" fill="#f44040"/>
<rect x="1023" y="250" width="1" height="12" fill="#000"/>
<rect x="1021" y="250" width="5" height="8" fill="#000"/>
<rect x="1022" y="251" width="3" height="6" fill="#f44040"/>
<rect x="1029" y="235" width="1" height="24" fill="#000"/>
<rect x="1027" y="243" width="5" height="16" fill="#000"/>
<rect x="1028" y="244" width="3" height="14" fill="#40f440"/>
<rect x="1034" y="254" width="1" height="32" fill="#000"/>
<rect x="1032" y="257" width="5" height="25" fill="#000"/>
<rect x="1033" y="258" width="3" height="23" fill="#f44040"/>
<rect x="1039" y="267" width="1" height="16" fill="#000"/>
<rect x="1037" y="280" width="5" height="3" fill="#000"/>
<rect x="1038" y="281" width="3" height="1" fill="#f44040"/>
<rect x="1044" y="261" width="1" height="25" fill="#000"/>
<rect x="1042" y="266" width="5" height="12" fill="#000"/>
<rect x="1043" y="267" width="3" height="10" fill="#40f440"/>
<rect x="1049" y="259" width="1" height="47" fill="#000"/>
<rect x="1047" y="259" width="5" height="34" fill="#000"/>
<rect x="1048" y="260" width="3" height="32" fill="#f44040"/>
<rect x="1054" y="272" width="1" height="22" fill="#000"/>
<rect x="1052" y="273" width="5" height="11" fill="#000"/>
<rect x="1053" y="274" width="3" height="9" fill="#40f440"/>
<rect x="1059" y="259" width="1" height="15" fill="#000"/>
<rect x="1057" y="259" width="5" height="3" fill="#000"/>
<rect x="1058" y="260" width="3" height="1" fill="#40f440"/>
<rect x="1064" y="241" width="1" height="13" fill="#000"/>
<rect x="1062" y="243" width="5" height="11" fill="#000"/>
<rect x="1063" y="244" width="3" height="9" fill="#f44040"/>
<rect x="1069" y="265" width="1" height="10" fill="#000"/>
<rect x="1067" y="265" width="5" height="10" fill="#000"/>
<rect x="1068" y="266" width="3" height="8" fill="#f44040"/>
<rect x="1074" y="264" width="1" height="11" fill="#000"/>
<rect x="1072" y="264" width="5" height="11" fill="#000"/>
<rect x="1073" y="265" width="3" height="9" fill="#f44040"/>
<rect x="1079" y="272" width="1" height="16" fill="#000"/>
<rect x="1077" y="272" width="5" height="8" fill="#000"/>
<rect x="1078" y="273" width="3" height="6" fill="#f44040"/>
<rect x="1085" y="257" width="1" height="17" fill="#000"/>
<rect x="1083" y="266" width="5" height="8" fill="#000"/>
<rect x="1084" y="267" width="3" height="6" fill="#40f440"/>
<rect x="1090" y="263" width="1" height="4" fill="#000"/>
<rect x="1088" y="263" width="5" height="4" fill="#000"/>
<rect x="1089" y="264" width="3" height="2" fill="#40f440"/>
<rect x="1095" y="242" width="1" height="28" fill="#000"/>
<rect x="1093" y="248" width="5" height="8" fill="#000"/>
<rect x="1094" y="249" width="3" height="6" fill="#f44040"/>
<rect x="1100" y="241" width="1" height="7" fill="#000"/>
<rect x="1098" y="241" width="5" height="7" fill="#000"/>
<rect x="1099" y="242" width="3" height="5" fill="#f44040"/>
<rect x="1105" y="239" width="1" height="5" fill="#000"/>
<rect x="1103" y="239" width="5" height="5" fill="#000"/>
<rect x="1104" y="240" width="3" height="3" fill="#f44040"/>
<rect x="1110" y="219" width="1" height="25" fill="#000"/>
<rect x="1108" y="222" width="5" height="22" fill="#000"/>
<rect x="1109" y="223" width="3" height="20" fill="#40f440"/>
<rect x="1115" y="160" width="1" height="59" fill="#000"/>
<rect x="1113" y="164" width="5" height="55" fill="#000"/>
<rect x="1114" y="165" width="3" height="53" fill="#40f440"/>
<rect x="1120" y="143" width="1" height="16" fill="#000"/>
<rect x="1118" y="150" width="5" height="8" fill="#000"/>
<rect x="1119" y="151" width="3" height="6" fill="#f44040"/>
<rect x="1125" y="158" width="1" height="28" fill="#000"/>
<rect x="1123" y="167" width="5" height="9" fill="#000"/>
<rect x="1124" y="168" width="3" height="7" fill="#f44040"/>
<rect x="1130" y="173" width="1" height="14" fill="#000"/>
<rect x="1128" y="175" width="5" height="2" fill="#000"/>
<rect x="1135" y="179" width="1" height="15" fill="#000"/>
<rect x="1133" y="179" width="5" height="15" fill="#000"/>
<rect x="1134" y="180" width="3" height="13" fill="#f44040"/>
<rect x="1141" y="178" width="1" height="10" fill="#000"/>
<rect x="1139" y="178" width="5" height="7" fill="#000"/>
<rect x="1140" y="179" width="3" height="5" fill="#f44040"/>
<rect x="1146" y="180" width="1" height="19" fill="#000"/>
<rect x="1144" y="180" width="5" height="7" fill="#000"/>
<rect x="1145" y="181" width="3" height="5" fill="#f44040"/>
<rect x="1151" y="161" width="1" height="26" fill="#000"/>
<rect x="1149" y="171" width="5" height="6" fill="#000"/>
<rect x="1150" y="172" width="3" height="4" fill="#f44040"/>
<rect x="1156" y="171" width="1" height="10" fill="#000"/>
<rect x="1154" y="173" width="5" height="8" fill="#000"/>
<rect x="1155" y="174" width="3" height="6" fill="#f44040"/>
<rect x="1161" y="182" width="1" height="8" fill="#000"/>
<rect x="1159" y="182" width="5" height="8" fill="#000"/>
<rect x="1160" y="183" width="3" height="6" fill="#40f440"/>
<rect x="1166" y="175" width="1" height="5" fill="#000"/>
<rect x="1164" y="175" width="5" height="5" fill="#000"/>
<rect x="1165" y="176" width="3" height="3" fill="#f44040"/>
<rect x="1171" y="174" width="1" height="17" fill="#000"/>
<rect x="1169" y="174" width="5" height="17" fill="#000"/>
<rect x="1170" y="175" width="3" height="15" fill="#f44040"/>
<rect x="1176" y="183" width="1" height="14" fill="#000"/>
<rect x="1174" y="183" width="5" height="13" fill="#000"/>
<rect x="1175" y="184" width="3" height="11" fill="#40f440"/>
<rect x="1181" y="165" width="1" height="18" fill="#000"/>
<rect x="1179" y="173" width="5" height="10" fill="#000"/>
<rect x="1180" y="174" width="3" height="8" fill="#f44040"/>
<rect x="1186" y="167" width="1" height="17" fill="#000"/>
<rect x="1184" y="172" width="5" height="4" fill="#000"/>
<rect x="1185" y="173" width="3" height="2" fill="#40f440"/>
<rect x="1192" y="150" width="1" height="10" fill="#000"/>
<rect x="1190" y="153" width="5" height="5" fill="#000"/>
<rect x="1191" y="154" width="3" height="3" fill="#40f440"/>
<rect x="1197" y="162" width="1" height="3" fill="#000"/>
<rect x="1195" y="162" width="5" height="3" fill="#000"/>
<rect x="1196" y="163" width="3" height="1" fill="#f44040"/>
<rect x="1202" y="160" width="1" height="9" fill="#000"/>
<rect x="1200" y="160" width="5" height="9" fill="#000"/>
<rect x="1201" y="161" width="3" height="7" fill="#f44040"/>
<rect x="1207" y="173" width="1" height="8" fill="#000"/>
<rect x="1205" y="176" width="5" height="2" fill="#000"/>
<rect x="1212" y="169" width="1" height="14" fill="#000"/>
<rect x="1210" y="171" width="5" height="12" fill="#000"/>
<rect x="1211" y="172" width="3" height="10" fill="#40f440"/>
<rect x="1217" y="158" width="1" height="11" fill="#000"/>
<rect x="1215" y="161" width="5" height="8" fill="#000"/>
<rect x="1216" y="162" width="3" height="6" fill="#40f440"/>
<rect x="1222" y="154" width="1" height="19" fill="#000"/>
<rect x="1220" y="154" width="5" height="19" fill="#000"/>
<rect x="1221" y="155" width="3" height="17" fill="#f44040"/>
<rect x="1227" y="150" width="1" height="20" fill="#000"/>
<rect x="1225" y="150" width="5" height="20" fill="#000"/>
<rect x="1226" y="151" width="3" height="18" fill="#40f440"/>
<rect x="1232" y="164" width="1" height="6" fill="#000"/>
<rect x="1230" y="164" width="5" height="6" fill="#000"/>
<rect x="1231" y="165" width="3" height="4" fill="#40f440"/>
<rect x="1237" y="154" width="1" height="12" fill="#000"/>
<rect x="1235" y="160" width="5" height="3" fill="#000"/>
<rect x="1236" y="161" width="3" height="1" fill="#40f440"/>
<rect x="1242" y="150" width="1" height="6" fill="#000"/>
<rect x="1240" y="150" width="5" height="6" fill="#000"/>
<rect x="1241" y="151" width="3" height="4" fill="#40f440"/>
<rect x="1248" y="151" width="1" height="5" fill="#000"/>
<rect x="1246" y="151" width="5" height="5" fill="#000"/>
<rect x="1247" y="152" width="3" height="3" fill="#40f440"/>
<rect x="1253" y="137" width="1" height="12" fill="#000"/>
<rect x="1251" y="140" width="5" height="9" fill="#000"/>
<rect x="1252" y="141" width="3" height="7" fill="#40f440"/>
<rect x="1258" y="144" width="1" height="3" fill="#000"/>
<rect x="1256" y="144" width="5" height="3" fill="#000"/>
<rect x="1257" y="145" width="3" height="1" fill="#f44040"/>
<rect x="1263" y="138" width="1" height="8" fill="#000"/>
<rect x="1261" y="138" width="5" height="1" fill="#000"/>
<rect x="1268" y="132" width="1" height="5" fill="#000"/>
<rect x="1266" y="132" width="5" height="5" fill="#000"/>
<rect x="1267" y="133" width="3" height="3" fill="#40f440"/>
<rect x="1273" y="110" width="1" height="20" fill="#000"/>
<rect x="1271" y="110" width="5" height="20" fill="#000"/>
<rect x="1272" y="111" width="3" height="18" fill="#40f440"/>
<rect x="1278" y="109" width="1" height="11" fill="#000"/>
<rect x="1276" y="109" width="5" height="5" fill="#000"/>
<rect x="1277" y="110" width="3" height="3" fill="#40f440"/>
<rect x="1283" y="109" width="1" height="8" fill="#000"/>
<rect x="1281" y="110" width="5" height="1" fill="#000"/>
<rect x="1288" y="109" width="1" height="16" fill="#000"/>
<rect x="1286" y="116" width="5" height="1" fill="#000"/>
<rect x="1293" y="108" width="1" height="21" fill="#000"/>
<rect x="1291" y="108" width="5" height="16" fill="#000"/>
<rect x="1292" y="109" width="3" height="14" fill="#f44040"/>
<rect x="1299" y="125" width="1" height="25" fill="#000"/>
<rect x="1297" y="128" width="5" height="22" fill="#000"/>
<rect x="1298" y="129" width="3" height="20" fill="#f44040"/>
<rect x="1304" y="134" width="1" height="23" fill="#000"/>
<rect x="1302" y="134" width="5" height="16" fill="#000"/>
<rect x="1303" y="135" width="3" height="14" fill="#40f440"/>
<rect x="1309" y="142" width="1" height="10" fill="#000"/>
<rect x="1307" y="144" width="5" height="1" fill="#000"/>
<rect x="1312" y="127" width="5" height="1" fill="#000"/>
<rect x="1319" y="114" width="1" height="14" fill="#000"/>
<rect x="1317" y="114" width="5" height="14" fill="#000"/>
<rect x="1318" y="115" width="3" height="12" fill="#40f440"/>
<rect x="1324" y="111" width="1" height="8" fill="#000"/>
<rect x="1322" y="111" width="5" height="8" fill="#000"/>
<rect x="1323" y="112" width="3" height="6" fill="#40f440"/>
<rect x="1334" y="108" width="1" height="10" fill="#000"/>
<rect x="1332" y="108" width="5" height="6" fill="#000"/>
<rect x="1333" y="109" width="3" height="4" fill="#f44040"/>
<rect x="1339" y="112" width="1" height="28" fill="#000"/>
<rect x="1337" y="112" width="5" height="25" fill="#000"/>
<rect x="1338" y="113" width="3" height="23" fill="#f44040"/>
<rect x="1349" y="147" width="1" height="11" fill="#000"/>
<rect x="1347" y="149" width="5" height="8" fill="#000"/>
<rect x="1348" y="150" width="3" height="6" fill="#f44040"/>
<rect x="6" y="517" width="9" height="1" fill="#000"/>
<rect x="683" y="46" width="9" height="1" fill="#000"/>
</g>
<g shape-rendering="crispEdges" fill="none" stroke="#ff00ff" stroke-width="1">
<path d="M1526 106.5H871.5V114.5H1526"/>
<path d="M1526 149.5H787.5V157.5H1526"/>
<path d="M1526 194.5H900.5V203.5H1526"/>
</g>
<g shape-rendering="crispEdges" fill="none">
<line x1="849.5" y1="197.4" x2="1526" y2="57.6" stroke="#a349a4" stroke-width="3"/>
<line x1="849" y1="203.5" x2="1526" y2="63.3" stroke="#a349a4" stroke-width="1"/>
<line x1="1142" y1="199.5" x2="1526" y2="119.3" stroke="#a349a4" stroke-width="1"/>
<line x1="1155.2" y1="200.9" x2="1526" y2="124.0" stroke="#a349a4" stroke-width="1"/>
<line x1="1006.4" y1="315.6" x2="1526" y2="208.6" stroke="#a349a4" stroke-width="3"/>
<line x1="1007.1" y1="309.4" x2="1526" y2="201.9" stroke="#a349a4" stroke-width="1"/>
<line x1="985.3" y1="345.2" x2="1526" y2="28.4" stroke="#ff7f27" stroke-width="3"/>
<line x1="980.1" y1="340.5" x2="1526" y2="20.1" stroke="#ff7f27" stroke-width="1"/>
<line x1="689.3" y1="44.9" x2="1526" y2="125.5" stroke="#000" stroke-width="3"/>
<line x1="680" y1="51" x2="1526" y2="132.4" stroke="#000" stroke-width="1"/>
</g>
<path d="M983.3 211.6 L993.1 201.6 L998.2 198.4 L999.5 197.5 H1007.6 L1010.8 199.4 L1014.3 201.6 L1021 206.3 L1026.9 210.6" fill="none" stroke="#7f7f7f" stroke-width="1" shape-rendering="crispEdges"/>
<path d="M1124.5 194.4 L1140.5 204 H1149 L1160.4 193.5 L1172 203 H1179.3 L1194 193.5" fill="none" stroke="#7092be" stroke-width="1" shape-rendering="crispEdges"/>
<ellipse cx="1339.5" cy="133.3" rx="14.1" ry="10.4" fill="none" stroke="#ed1c24" stroke-width="4.4"/>
<path d="M1248.7 152.6 C1250.1 150.5 1254.3 144.4 1257.1 139.9 C1259.9 135.4 1262.9 130.0 1265.6 125.5 C1268.3 121.0 1270.8 116.0 1273.2 112.8 C1275.6 109.6 1277.8 107.8 1280 106.1 C1282.2 104.4 1284.5 102.4 1286.7 102.5 C1289.0 102.6 1291.8 104.9 1293.5 106.9 C1295.2 108.9 1295.9 111.5 1296.9 114.5 C1297.9 117.5 1298.4 121.4 1299.4 125 C1300.4 128.6 1301.8 132.5 1302.8 136 C1303.8 139.5 1304.5 142.8 1305.5 146 C1306.5 149.2 1308.0 153.5 1308.5 155" fill="none" stroke="#00a2e8" stroke-width="1" shape-rendering="crispEdges"/>
<path d="M1299.4 156 C1300.2 154.6 1302.8 150.9 1304.5 147.5 C1306.2 144.1 1307.7 139.8 1309.5 135.6 C1311.3 131.4 1313.6 126.2 1315.4 122.1 C1317.2 118.0 1319.0 113.9 1320.5 111.1 C1322.0 108.3 1323.4 106.6 1324.7 105.2 C1326.0 103.8 1327.1 102.3 1328.5 102.5 C1329.9 102.7 1331.9 104.5 1333.2 106.1 C1334.5 107.7 1335.5 109.8 1336.6 112 C1337.7 114.2 1338.9 116.9 1340 119.6 C1341.1 122.3 1342.2 124.9 1343.3 128 C1344.4 131.1 1345.6 134.8 1346.7 138.2 C1347.8 141.6 1349.0 145.1 1350.1 148.3 C1351.2 151.5 1352.9 156.1 1353.5 157.6" fill="none" stroke="#00a2e8" stroke-width="1" shape-rendering="crispEdges"/>
<g shape-rendering="crispEdges" fill="#dcdcdc">
<rect x="10" y="633" width="1351" height="1"/>
<rect x="10" y="663" width="1351" height="1"/>
<rect x="10" y="693" width="1351" height="1"/>
<rect x="10" y="722" width="1351" height="1"/>
<rect x="10" y="752" width="1351" height="1"/>
<rect x="10" y="782" width="1351" height="1"/>
<rect x="10" y="812" width="1351" height="1"/>
<rect x="120" y="633" width="1" height="180"/>
<rect x="221" y="633" width="1" height="180"/>
<rect x="333" y="633" width="1" height="180"/>
<rect x="430" y="633" width="1" height="180"/>
<rect x="542" y="633" width="1" height="180"/>
<rect x="644" y="633" width="1" height="180"/>
<rect x="751" y="633" width="1" height="180"/>
<rect x="853" y="633" width="1" height="180"/>
<rect x="960" y="633" width="1" height="180"/>
<rect x="1067" y="633" width="1" height="180"/>
<rect x="1179" y="633" width="1" height="180"/>
<rect x="1296" y="633" width="1" height="180"/>
<rect x="10" y="633" width="1" height="180"/>
<rect x="1360" y="633" width="1" height="180"/>
</g>
<g shape-rendering="crispEdges" fill="#007800">
<rect x="12" y="723" width="3" height="4"/>
<rect x="17" y="723" width="3" height="2"/>
<rect x="22" y="723" width="3" height="1"/>
<rect x="27" y="721" width="3" height="3"/>
<rect x="32" y="719" width="3" height="5"/>
<rect x="37" y="718" width="3" height="6"/>
<rect x="42" y="717" width="3" height="7"/>
<rect x="47" y="715" width="3" height="9"/>
<rect x="52" y="713" width="3" height="11"/>
<rect x="57" y="713" width="3" height="11"/>
<rect x="62" y="714" width="3" height="10"/>
<rect x="68" y="714" width="3" height="10"/>
<rect x="73" y="715" width="3" height="9"/>
<rect x="78" y="716" width="3" height="8"/>
<rect x="83" y="717" width="3" height="7"/>
<rect x="88" y="719" width="3" height="5"/>
<rect x="93" y="721" width="3" height="3"/>
<rect x="98" y="722" width="3" height="2"/>
<rect x="103" y="723" width="3" height="1"/>
<rect x="108" y="722" width="3" height="2"/>
<rect x="113" y="721" width="3" height="3"/>
<rect x="119" y="720" width="3" height="4"/>
<rect x="124" y="717" width="3" height="7"/>
<rect x="129" y="716" width="3" height="8"/>
<rect x="134" y="716" width="3" height="8"/>
<rect x="139" y="716" width="3" height="8"/>
<rect x="144" y="718" width="3" height="6"/>
<rect x="149" y="720" width="3" height="4"/>
<rect x="154" y="722" width="3" height="2"/>
<rect x="159" y="723" width="3" height="1"/>
<rect x="164" y="723" width="3" height="2"/>
<rect x="169" y="723" width="3" height="3"/>
<rect x="175" y="723" width="3" height="1"/>
<rect x="180" y="722" width="3" height="2"/>
<rect x="185" y="719" width="3" height="5"/>
<rect x="190" y="714" width="3" height="10"/>
<rect x="195" y="709" width="3" height="15"/>
<rect x="200" y="708" width="3" height="16"/>
<rect x="205" y="707" width="3" height="17"/>
<rect x="210" y="710" width="3" height="14"/>
<rect x="215" y="714" width="3" height="10"/>
<rect x="220" y="717" width="3" height="7"/>
<rect x="226" y="719" width="3" height="5"/>
<rect x="231" y="720" width="3" height="4"/>
<rect x="236" y="722" width="3" height="2"/>
<rect x="241" y="723" width="3" height="2"/>
<rect x="246" y="723" width="3" height="5"/>
<rect x="251" y="723" width="3" height="12"/>
<rect x="256" y="723" width="3" height="14"/>
<rect x="261" y="723" width="3" height="16"/>
<rect x="266" y="723" width="3" height="19"/>
<rect x="271" y="723" width="3" height="18"/>
<rect x="276" y="723" width="3" height="14"/>
<rect x="282" y="723" width="3" height="12"/>
<rect x="287" y="723" width="3" height="11"/>
<rect x="292" y="723" width="3" height="9"/>
<rect x="297" y="723" width="3" height="8"/>
<rect x="302" y="723" width="3" height="8"/>
<rect x="307" y="723" width="3" height="7"/>
<rect x="312" y="723" width="3" height="6"/>
<rect x="317" y="723" width="3" height="6"/>
<rect x="322" y="723" width="3" height="6"/>
<rect x="327" y="723" width="3" height="5"/>
<rect x="332" y="723" width="3" height="6"/>
<rect x="338" y="723" width="3" height="5"/>
<rect x="343" y="723" width="3" height="5"/>
<rect x="348" y="723" width="3" height="6"/>
<rect x="353" y="723" width="3" height="5"/>
<rect x="358" y="723" width="3" height="3"/>
<rect x="363" y="723" width="3" height="2"/>
<rect x="368" y="722" width="3" height="2"/>
<rect x="373" y="719" width="3" height="5"/>
<rect x="378" y="717" width="3" height="7"/>
<rect x="383" y="717" width="3" height="7"/>
<rect x="389" y="713" width="3" height="11"/>
<rect x="394" y="711" width="3" height="13"/>
<rect x="399" y="712" width="3" height="12"/>
<rect x="404" y="713" width="3" height="11"/>
<rect x="409" y="713" width="3" height="11"/>
<rect x="414" y="712" width="3" height="12"/>
<rect x="419" y="710" width="3" height="14"/>
<rect x="424" y="709" width="3" height="15"/>
<rect x="429" y="707" width="3" height="17"/>
<rect x="434" y="704" width="3" height="20"/>
<rect x="439" y="704" width="3" height="20"/>
<rect x="445" y="707" width="3" height="17"/>
<rect x="450" y="709" width="3" height="15"/>
<rect x="455" y="710" width="3" height="14"/>
<rect x="460" y="714" width="3" height="10"/>
<rect x="465" y="717" width="3" height="7"/>
<rect x="470" y="718" width="3" height="6"/>
<rect x="475" y="717" width="3" height="7"/>
<rect x="480" y="713" width="3" height="11"/>
<rect x="485" y="710" width="3" height="14"/>
<rect x="490" y="706" width="3" height="18"/>
<rect x="496" y="706" width="3" height="18"/>
<rect x="501" y="709" width="3" height="15"/>
<rect x="506" y="711" width="3" height="13"/>
<rect x="511" y="719" width="3" height="5"/>
<rect x="516" y="723" width="3" height="2"/>
<rect x="521" y="723" width="3" height="5"/>
<rect x="526" y="723" width="3" height="5"/>
<rect x="531" y="723" width="3" height="8"/>
<rect x="536" y="723" width="3" height="10"/>
<rect x="541" y="723" width="3" height="11"/>
<rect x="546" y="723" width="3" height="14"/>
<rect x="552" y="723" width="3" height="21"/>
<rect x="557" y="723" width="3" height="26"/>
<rect x="562" y="723" width="3" height="22"/>
<rect x="567" y="723" width="3" height="21"/>
<rect x="572" y="723" width="3" height="21"/>
<rect x="577" y="723" width="3" height="20"/>
<rect x="582" y="723" width="3" height="18"/>
<rect x="587" y="723" width="3" height="15"/>
<rect x="592" y="723" width="3" height="10"/>
<rect x="597" y="723" width="3" height="6"/>
<rect x="602" y="723" width="3" height="4"/>
<rect x="608" y="723" width="3" height="5"/>
<rect x="613" y="723" width="3" height="5"/>
<rect x="618" y="723" width="3" height="6"/>
<rect x="623" y="723" width="3" height="3"/>
<rect x="628" y="723" width="3" height="1"/>
<rect x="633" y="720" width="3" height="4"/>
<rect x="638" y="716" width="3" height="8"/>
<rect x="643" y="717" width="3" height="7"/>
<rect x="648" y="722" width="3" height="2"/>
<rect x="653" y="723" width="3" height="1"/>
<rect x="659" y="723" width="3" height="1"/>
<rect x="664" y="719" width="3" height="5"/>
<rect x="669" y="717" width="3" height="7"/>
<rect x="674" y="714" width="3" height="10"/>
<rect x="679" y="708" width="3" height="16"/>
<rect x="684" y="709" width="3" height="15"/>
<rect x="689" y="709" width="3" height="15"/>
<rect x="694" y="703" width="3" height="21"/>
<rect x="699" y="705" width="3" height="19"/>
<rect x="704" y="710" width="3" height="14"/>
<rect x="709" y="710" width="3" height="14"/>
<rect x="715" y="710" width="3" height="14"/>
<rect x="720" y="714" width="3" height="10"/>
<rect x="725" y="718" width="3" height="6"/>
<rect x="730" y="723" width="3" height="3"/>
<rect x="735" y="723" width="3" height="5"/>
<rect x="740" y="723" width="3" height="10"/>
<rect x="745" y="723" width="3" height="11"/>
<rect x="750" y="723" width="3" height="16"/>
<rect x="755" y="723" width="3" height="17"/>
<rect x="760" y="723" width="3" height="14"/>
<rect x="766" y="723" width="3" height="11"/>
<rect x="771" y="723" width="3" height="11"/>
<rect x="776" y="723" width="3" height="11"/>
<rect x="781" y="723" width="3" height="12"/>
<rect x="786" y="723" width="3" height="12"/>
<rect x="791" y="723" width="3" height="10"/>
<rect x="796" y="723" width="3" height="9"/>
<rect x="801" y="723" width="3" height="10"/>
<rect x="806" y="723" width="3" height="11"/>
<rect x="811" y="723" width="3" height="9"/>
<rect x="816" y="723" width="3" height="9"/>
<rect x="822" y="723" width="3" height="8"/>
<rect x="827" y="723" width="3" height="6"/>
<rect x="832" y="723" width="3" height="9"/>
<rect x="837" y="723" width="3" height="11"/>
<rect x="842" y="723" width="3" height="12"/>
<rect x="847" y="723" width="3" height="12"/>
<rect x="852" y="723" width="3" height="9"/>
<rect x="857" y="723" width="3" height="8"/>
<rect x="862" y="723" width="3" height="8"/>
<rect x="867" y="723" width="3" height="5"/>
<rect x="872" y="723" width="3" height="4"/>
<rect x="878" y="722" width="3" height="2"/>
<rect x="883" y="720" width="3" height="4"/>
<rect x="888" y="719" width="3" height="5"/>
<rect x="893" y="721" width="3" height="3"/>
<rect x="898" y="721" width="3" height="3"/>
<rect x="903" y="723" width="3" height="4"/>
<rect x="908" y="723" width="3" height="9"/>
<rect x="913" y="723" width="3" height="16"/>
<rect x="918" y="723" width="3" height="17"/>
<rect x="923" y="723" width="3" height="20"/>
<rect x="929" y="723" width="3" height="25"/>
<rect x="934" y="723" width="3" height="25"/>
<rect x="939" y="723" width="3" height="24"/>
<rect x="944" y="723" width="3" height="24"/>
<rect x="949" y="723" width="3" height="21"/>
<rect x="954" y="723" width="3" height="18"/>
<rect x="959" y="723" width="3" height="14"/>
<rect x="964" y="723" width="3" height="11"/>
<rect x="969" y="723" width="3" height="8"/>
<rect x="974" y="723" width="3" height="6"/>
<rect x="979" y="723" width="3" height="2"/>
<rect x="985" y="721" width="3" height="3"/>
<rect x="990" y="718" width="3" height="6"/>
<rect x="995" y="716" width="3" height="8"/>
<rect x="1000" y="715" width="3" height="9"/>
<rect x="1005" y="710" width="3" height="14"/>
<rect x="1010" y="707" width="3" height="17"/>
<rect x="1015" y="707" width="3" height="17"/>
<rect x="1020" y="708" width="3" height="16"/>
<rect x="1025" y="710" width="3" height="14"/>
<rect x="1030" y="712" width="3" height="12"/>
<rect x="1036" y="712" width="3" height="12"/>
<rect x="1041" y="717" width="3" height="7"/>
<rect x="1046" y="720" width="3" height="4"/>
<rect x="1051" y="719" width="3" height="5"/>
<rect x="1056" y="722" width="3" height="2"/>
<rect x="1061" y="721" width="3" height="3"/>
<rect x="1066" y="719" width="3" height="5"/>
<rect x="1071" y="716" width="3" height="8"/>
<rect x="1076" y="717" width="3" height="7"/>
<rect x="1081" y="718" width="3" height="6"/>
<rect x="1086" y="718" width="3" height="6"/>
<rect x="1092" y="717" width="3" height="7"/>
<rect x="1097" y="716" width="3" height="8"/>
<rect x="1102" y="715" width="3" height="9"/>
<rect x="1107" y="713" width="3" height="11"/>
<rect x="1112" y="712" width="3" height="12"/>
<rect x="1117" y="709" width="3" height="15"/>
<rect x="1122" y="699" width="3" height="25"/>
<rect x="1127" y="694" width="3" height="30"/>
<rect x="1132" y="694" width="3" height="30"/>
<rect x="1137" y="696" width="3" height="28"/>
<rect x="1142" y="701" width="3" height="23"/>
<rect x="1148" y="704" width="3" height="20"/>
<rect x="1153" y="707" width="3" height="17"/>
<rect x="1158" y="709" width="3" height="15"/>
<rect x="1163" y="711" width="3" height="13"/>
<rect x="1168" y="714" width="3" height="10"/>
<rect x="1173" y="716" width="3" height="8"/>
<rect x="1178" y="719" width="3" height="5"/>
<rect x="1183" y="721" width="3" height="3"/>
<rect x="1188" y="722" width="3" height="2"/>
<rect x="1193" y="722" width="3" height="2"/>
<rect x="1199" y="719" width="3" height="5"/>
<rect x="1204" y="720" width="3" height="4"/>
<rect x="1209" y="721" width="3" height="3"/>
<rect x="1214" y="723" width="3" height="1"/>
<rect x="1219" y="723" width="3" height="2"/>
<rect x="1224" y="723" width="3" height="2"/>
<rect x="1229" y="723" width="3" height="3"/>
<rect x="1234" y="723" width="3" height="1"/>
<rect x="1239" y="723" width="3" height="2"/>
<rect x="1244" y="723" width="3" height="2"/>
<rect x="1249" y="723" width="3" height="1"/>
<rect x="1255" y="723" width="3" height="1"/>
<rect x="1260" y="721" width="3" height="3"/>
<rect x="1265" y="721" width="3" height="3"/>
<rect x="1270" y="721" width="3" height="3"/>
<rect x="1275" y="720" width="3" height="4"/>
<rect x="1280" y="716" width="3" height="8"/>
<rect x="1285" y="715" width="3" height="9"/>
<rect x="1290" y="714" width="3" height="10"/>
<rect x="1295" y="716" width="3" height="8"/>
<rect x="1300" y="718" width="3" height="6"/>
<rect x="1306" y="723" width="3" height="3"/>
<rect x="1311" y="723" width="3" height="4"/>
<rect x="1316" y="723" width="3" height="7"/>
<rect x="1321" y="723" width="3" height="6"/>
<rect x="1326" y="723" width="3" height="4"/>
<rect x="1331" y="723" width="3" height="2"/>
<rect x="1336" y="723" width="3" height="1"/>
<rect x="1341" y="723" width="3" height="1"/>
<rect x="1346" y="723" width="3" height="4"/>
<rect x="1351" y="723" width="3" height="10"/>
<rect x="1356" y="723" width="3" height="13"/>
</g>
<polyline points="13.5,721.3 18.5,721.7 23.5,721.8 28.5,721.4 33.5,720.6 38.5,719.4 43.5,718.0 48.5,716.1 53.5,713.8 58.5,711.6 63.5,709.5 69.5,707.4 74.5,705.5 79.5,703.9 84.5,702.6 89.5,701.8 94.5,701.4 99.5,701.3 104.5,701.5 109.5,701.5 114.5,701.1 120.5,700.4 125.5,699.0 130.5,697.4 135.5,695.7 140.5,694.1 145.5,693.0 150.5,692.3 155.5,692.2 160.5,692.3 165.5,692.7 170.5,693.3 176.5,693.5 181.5,693.4 186.5,692.4 191.5,690.3 196.5,687.0 201.5,683.4 206.5,679.6 211.5,676.4 216.5,674.2 221.5,672.9 227.5,672.2 232.5,671.6 237.5,671.6 242.5,671.9 247.5,673.1 252.5,675.9 257.5,679.3 262.5,683.3 267.5,688.0 272.5,692.5 277.5,695.9 283.5,698.8 288.5,701.4 293.5,703.5 298.5,705.5 303.5,707.4 308.5,709.0 313.5,710.4 318.5,711.8 323.5,713.1 328.5,714.4 333.5,715.8 339.5,716.9 344.5,718.0 349.5,719.3 354.5,720.3 359.5,720.8 364.5,721.2 369.5,721.1 374.5,720.2 379.5,718.9 384.5,717.4 390.5,715.1 395.5,712.1 400.5,709.4 405.5,707.1 410.5,704.7 415.5,702.1 420.5,699.1 425.5,695.7 430.5,691.9 435.5,687.3 440.5,682.7 446.5,678.9 451.5,675.6 456.5,672.6 461.5,670.4 466.5,669.0 471.5,667.8 476.5,666.4 481.5,664.0 486.5,660.8 491.5,656.6 497.5,652.6 502.5,649.2 507.5,646.4 512.5,645.6 517.5,646.0 522.5,647.2 527.5,648.2 532.5,650.2 537.5,652.4 542.5,655.1 547.5,658.5 553.5,663.6 558.5,669.9 563.5,675.3 568.5,680.4 573.5,685.6 578.5,690.6 583.5,695.1 588.5,698.6 593.5,701.1 598.5,702.5 603.5,703.5 609.5,704.7 614.5,705.9 619.5,707.4 624.5,708.2 629.5,708.3 634.5,707.7 639.5,706.1 644.5,704.7 649.5,704.6 654.5,704.9 660.5,705.1 665.5,704.3 670.5,703.0 675.5,700.8 680.5,697.3 685.5,694.0 690.5,690.7 695.5,686.0 700.5,681.7 705.5,678.6 710.5,675.5 716.5,672.3 721.5,670.1 726.5,669.1 731.5,669.7 736.5,670.8 741.5,673.2 746.5,675.9 751.5,679.8 756.5,683.9 761.5,687.3 767.5,690.0 772.5,692.7 777.5,695.4 782.5,698.3 787.5,701.2 792.5,703.7 797.5,705.9 802.5,708.3 807.5,710.9 812.5,713.0 817.5,715.1 823.5,717.0 828.5,718.3 833.5,720.4 838.5,723.1 843.5,726.0 848.5,728.9 853.5,731.1 858.5,733.1 863.5,735.1 868.5,736.2 873.5,737.0 879.5,737.0 884.5,736.5 889.5,735.6 894.5,735.2 899.5,734.9 904.5,735.9 909.5,737.9 914.5,741.8 919.5,746.0 924.5,750.9 930.5,756.9 935.5,763.0 940.5,768.9 945.5,774.8 950.5,779.9 955.5,784.4 960.5,787.7 965.5,790.3 970.5,792.2 975.5,793.7 980.5,793.9 986.5,793.5 991.5,792.4 996.5,790.9 1001.5,789.0 1006.5,786.0 1011.5,782.1 1016.5,778.3 1021.5,774.8 1026.5,771.6 1031.5,769.1 1037.5,766.5 1042.5,765.1 1047.5,764.4 1052.5,763.7 1057.5,763.5 1062.5,763.2 1067.5,762.3 1072.5,760.8 1077.5,759.5 1082.5,758.3 1087.5,757.3 1093.5,756.0 1098.5,754.5 1103.5,752.6 1108.5,750.3 1113.5,747.5 1118.5,744.1 1123.5,738.4 1128.5,731.2 1133.5,724.1 1138.5,717.5 1143.5,712.1 1149.5,707.5 1154.5,703.8 1159.5,700.4 1164.5,697.7 1169.5,695.6 1174.5,694.1 1179.5,693.3 1184.5,693.0 1189.5,692.9 1194.5,692.8 1200.5,692.1 1205.5,691.4 1210.5,691.0 1215.5,691.2 1220.5,691.7 1225.5,692.0 1230.5,692.6 1235.5,692.8 1240.5,693.1 1245.5,693.6 1250.5,693.8 1256.5,693.8 1261.5,693.6 1266.5,693.3 1271.5,692.9 1276.5,692.2 1281.5,690.7 1286.5,688.7 1291.5,686.7 1296.5,685.1 1301.5,684.1 1307.5,684.6 1312.5,685.6 1317.5,687.4 1322.5,688.9 1327.5,689.8 1332.5,690.2 1337.5,690.3 1342.5,690.4 1347.5,691.4 1352.5,693.8 1357.5,696.9" fill="none" stroke="#ff00ff" stroke-width="1.1" stroke-linejoin="round"/>
<polyline points="13.5,725.2 18.5,723.2 23.5,722.0 28.5,720.1 33.5,717.2 38.5,714.9 43.5,712.1 48.5,708.7 53.5,704.8 58.5,702.7 63.5,701.1 69.5,699.2 74.5,697.8 79.5,697.5 84.5,697.4 89.5,698.4 94.5,700.0 99.5,701.0 104.5,702.1 109.5,701.4 114.5,699.8 120.5,697.6 125.5,693.5 130.5,690.8 135.5,688.9 140.5,688.0 145.5,688.5 150.5,689.6 155.5,691.5 160.5,693.0 165.5,694.3 170.5,695.6 176.5,694.4 181.5,693.0 186.5,688.6 191.5,681.7 196.5,673.9 201.5,668.9 206.5,664.4 211.5,663.8 216.5,665.4 221.5,667.7 227.5,669.1 232.5,669.6 237.5,671.3 242.5,673.1 247.5,677.9 252.5,687.0 257.5,692.8 262.5,699.4 267.5,707.0 272.5,710.2 277.5,709.6 283.5,710.4 288.5,711.8 293.5,712.0 298.5,713.4 303.5,715.0 308.5,715.5 313.5,716.0 318.5,717.2 323.5,718.6 328.5,719.5 333.5,721.3 339.5,721.3 344.5,722.3 349.5,724.5 354.5,724.4 359.5,723.0 364.5,722.5 369.5,720.6 374.5,716.6 379.5,713.6 384.5,711.6 390.5,705.7 395.5,700.3 400.5,698.6 405.5,697.7 410.5,695.3 415.5,691.7 420.5,687.1 425.5,682.3 430.5,676.5 435.5,669.0 440.5,664.1 446.5,663.7 451.5,662.4 456.5,660.5 461.5,662.0 466.5,663.1 471.5,663.2 476.5,660.5 481.5,654.4 486.5,648.0 491.5,639.8 497.5,636.7 502.5,635.5 507.5,635.4 512.5,642.1 517.5,647.9 522.5,651.7 527.5,652.4 532.5,657.9 537.5,661.6 542.5,665.5 547.5,672.3 553.5,684.0 558.5,695.2 563.5,697.0 568.5,700.5 573.5,706.7 578.5,710.4 583.5,713.0 588.5,712.7 593.5,710.8 598.5,708.3 603.5,707.5 609.5,709.5 614.5,711.0 619.5,713.2 624.5,711.3 629.5,708.6 634.5,705.3 639.5,699.6 644.5,699.4 649.5,704.1 654.5,705.9 660.5,705.8 665.5,701.2 670.5,697.6 675.5,692.3 680.5,683.4 685.5,680.7 690.5,677.7 695.5,666.9 700.5,664.8 705.5,666.3 710.5,662.7 716.5,659.4 721.5,661.7 726.5,665.0 731.5,672.0 736.5,675.1 741.5,682.8 746.5,686.6 751.5,695.7 756.5,700.3 761.5,700.9 767.5,700.9 772.5,703.3 777.5,706.2 782.5,710.1 787.5,712.5 792.5,713.7 797.5,714.9 802.5,718.1 807.5,721.2 812.5,721.4 817.5,723.4 823.5,724.7 828.5,723.7 833.5,728.7 838.5,733.7 843.5,737.5 848.5,740.9 853.5,739.7 858.5,740.9 863.5,743.1 868.5,740.8 873.5,740.2 879.5,736.7 884.5,734.5 889.5,732.2 894.5,733.6 899.5,733.7 904.5,739.8 909.5,746.2 914.5,757.2 919.5,762.6 924.5,770.6 930.5,781.2 935.5,787.3 940.5,792.4 945.5,798.2 950.5,800.7 955.5,802.1 960.5,801.1 965.5,800.5 970.5,799.9 975.5,799.5 980.5,795.1 986.5,792.0 991.5,788.0 996.5,784.7 1001.5,781.7 1006.5,773.6 1011.5,766.7 1016.5,763.2 1021.5,760.7 1026.5,759.0 1031.5,758.8 1037.5,756.3 1042.5,759.4 1047.5,761.6 1052.5,760.7 1057.5,763.1 1062.5,762.0 1067.5,758.6 1072.5,754.6 1077.5,754.2 1082.5,753.5 1087.5,753.3 1093.5,751.1 1098.5,748.6 1103.5,745.0 1108.5,740.8 1113.5,736.7 1118.5,730.2 1123.5,715.5 1128.5,702.6 1133.5,695.9 1138.5,691.1 1143.5,690.6 1149.5,689.1 1154.5,688.7 1159.5,687.0 1164.5,686.8 1169.5,687.5 1174.5,687.8 1179.5,690.3 1184.5,691.7 1189.5,692.7 1194.5,692.4 1200.5,689.1 1205.5,688.7 1210.5,689.5 1215.5,692.0 1220.5,693.5 1225.5,693.3 1230.5,695.2 1235.5,693.3 1240.5,694.7 1245.5,695.4 1250.5,694.5 1256.5,694.2 1261.5,692.4 1266.5,692.3 1271.5,691.1 1276.5,689.6 1281.5,684.5 1286.5,680.9 1291.5,678.6 1296.5,678.5 1301.5,680.2 1307.5,686.7 1312.5,689.7 1317.5,694.2 1322.5,694.9 1327.5,693.4 1332.5,692.1 1337.5,690.6 1342.5,690.8 1347.5,695.5 1352.5,703.2 1357.5,709.4" fill="none" stroke="#1a1aff" stroke-width="1.1" stroke-linejoin="round"/>
<rect x="11.5" y="614.5" width="10" height="10" fill="#0000ff" stroke="#000" stroke-width="1" shape-rendering="crispEdges"/>
<text transform="matrix(1 0 0 1.05 0 625)" x="27 38 47 58 69 73 78 86 94 98 102 110 118 123 127 131 139 143 151 159 167 175" y="0" fill="#000">MACD (26, 12): 0,23539</text>
<rect x="216.5" y="614.5" width="10" height="10" fill="#ff00ff" stroke="#000" stroke-width="1" shape-rendering="crispEdges"/>
<text transform="matrix(1 0 0 1.05 0 625)" x="232 242 251 261 265 270 278 283 287 291 299 303 311 319 327 335" y="0" fill="#000">EXP (9): 0,44626</text>
<rect x="376.5" y="614.5" width="10" height="10" fill="#008000" stroke="#000" stroke-width="1" shape-rendering="crispEdges"/>
<text transform="matrix(1 0 0 1.05 0 625)" x="392 403 406 413 421 426 434 442 450 458 466 470 474 479 487 491 499 507 515 523" y="0" fill="#000">Divergence: -0,21087</text>
<text transform="matrix(1 0 0 1.065 0 639)" x="1365 1373 1377" y="0" fill="#000">1,5</text>
<text transform="matrix(1 0 0 1.065 0 669)" x="1365 1373 1377" y="0" fill="#000">1,0</text>
<text transform="matrix(1 0 0 1.065 0 699)" x="1365 1373 1377" y="0" fill="#000">0,5</text>
<text transform="matrix(1 0 0 1.065 0 728)" x="1365 1373 1377" y="0" fill="#000">0,0</text>
<text transform="matrix(1 0 0 1.065 0 758)" x="1365 1370 1378 1382" y="0" fill="#000">-0,5</text>
<text transform="matrix(1 0 0 1.065 0 788)" x="1365 1370 1378 1382" y="0" fill="#000">-1,0</text>
<text transform="matrix(1 0 0 1.065 0 818)" x="1365 1370 1378 1382" y="0" fill="#000">-1,5</text>
<ellipse cx="1355.5" cy="699.5" rx="28" ry="21.8" fill="none" stroke="#000" stroke-width="3"/>
</svg>
</body></html>
